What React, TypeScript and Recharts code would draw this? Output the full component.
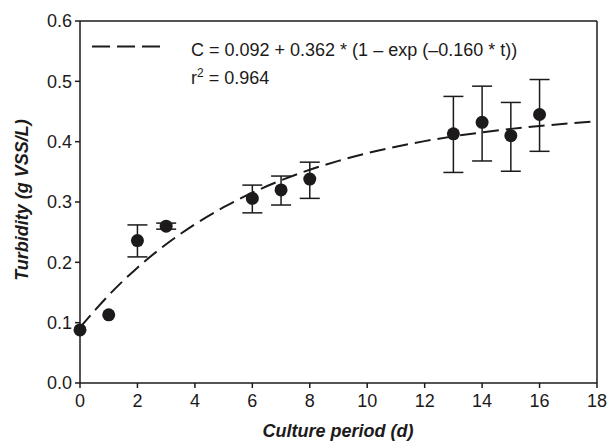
import React from "react";
import {
  ComposedChart,
  Line,
  Scatter,
  XAxis,
  YAxis,
  ErrorBar,
  ReferenceLine,
} from "recharts";

// Measured points (culture period in days, turbidity g VSS/L)
const days = [0, 1, 2, 3, 6, 7, 8, 13, 14, 15, 16];
const turbidity = [0.088, 0.113, 0.236, 0.26, 0.306, 0.32, 0.338, 0.413, 0.432, 0.41, 0.445];
const upperBound = [0.088, 0.113, 0.262, 0.265, 0.328, 0.343, 0.366, 0.475, 0.492, 0.465, 0.503];
const lowerBound = [0.088, 0.113, 0.209, 0.255, 0.282, 0.295, 0.306, 0.349, 0.368, 0.351, 0.384];

// Fitted curve sampled values
const fitDays = [0, 1, 2, 3, 4, 5, 6, 7, 8, 9, 10, 11, 12, 13, 14, 15, 16, 17, 18];
const fitValues = [
  0.092, 0.1455, 0.1912, 0.23, 0.2631, 0.2913, 0.3154, 0.3359, 0.3534, 0.3682,
  0.3809, 0.3917, 0.4009, 0.4088, 0.4154, 0.4212, 0.426, 0.4301, 0.4337,
];

const xTicks = [0, 2, 4, 6, 8, 10, 12, 14, 16, 18];
const yTicks = [0, 0.1, 0.2, 0.3, 0.4, 0.5, 0.6];

const equationText = "C = 0.092 + 0.362 * (1 \u2013 exp (\u20130.160 * t))";
const r2Value = "0.964";
const xTitle = "Culture period (d)";
const yTitle = "Turbidity (g VSS/L)";

const pointData = days.map((d, i) => ({
  x: d,
  y: turbidity[i],
  err:
    upperBound[i] === lowerBound[i]
      ? undefined
      : [turbidity[i] - lowerBound[i], upperBound[i] - turbidity[i]],
}));
const fitData = fitDays.map((d, i) => ({ x: d, y: fitValues[i] }));

const INK = "#1c1a1a";
const FONT = "'Liberation Sans', Arial, sans-serif";

const Dot = (props: any) => {
  const { cx, cy } = props;
  if (cx == null || cy == null) return null;
  return <circle cx={cx} cy={cy} r={6.5} fill={INK} />;
};

export default function App() {
  return (
    <div style={{ position: "absolute", left: 0, top: 0, width: 609, height: 441, background: "#fff" }}>
      <ComposedChart
        width={609}
        height={441}
        margin={{ top: 21, right: 12, bottom: 18, left: 0 }}
        style={{ overflow: "visible" }}
      >
        <XAxis
          dataKey="x"
          type="number"
          domain={[0, 18]}
          ticks={xTicks}
          tickSize={5}
          tickMargin={6}
          height={40}
          stroke={INK}
          strokeWidth={1.5}
          tick={{ fill: INK, fontSize: 18, fontFamily: FONT }}
        />
        <YAxis
          type="number"
          domain={[0, 0.6]}
          ticks={yTicks}
          width={80}
          tickSize={5}
          tickMargin={3}
          stroke={INK}
          strokeWidth={1.5}
          tickFormatter={(v: number) => v.toFixed(1)}
          tick={{ fill: INK, fontSize: 18, fontFamily: FONT }}
        />
        <ReferenceLine y={0.6} stroke={INK} strokeWidth={1.5} />
        <ReferenceLine x={18} stroke={INK} strokeWidth={1.5} />
        <Line
          data={fitData}
          dataKey="y"
          type="monotone"
          stroke={INK}
          strokeWidth={2}
          strokeDasharray="16 7"
          dot={false}
          activeDot={false}
          isAnimationActive={false}
        />
        <Scatter data={pointData} dataKey="y" shape={<Dot />} isAnimationActive={false}>
          <ErrorBar dataKey="err" direction="y" width={10} stroke={INK} strokeWidth={1.5} />
        </Scatter>
      </ComposedChart>
      <svg
        width={609}
        height={441}
        style={{ position: "absolute", left: 0, top: 0, pointerEvents: "none" }}
      >
        <line x1={92} y1={46.5} x2={164} y2={46.5} stroke={INK} strokeWidth={2} strokeDasharray="18 7" />
        <text x={191} y={56} fontSize={18} fontFamily={FONT} fill={INK}>
          {equationText}
        </text>
        <text x={191} y={83.5} fontSize={18} fontFamily={FONT} fill={INK}>
          r
          <tspan dy={-7} fontSize={12}>2</tspan>
          <tspan dy={7}>{" = " + r2Value}</tspan>
        </text>
        <text
          x={338}
          y={437}
          textAnchor="middle"
          fontSize={18}
          fontWeight="bold"
          fontStyle="italic"
          fontFamily={FONT}
          fill={INK}
        >
          {xTitle}
        </text>
        <text
          x={28}
          y={200}
          textAnchor="middle"
          transform="rotate(-90 28 200)"
          fontSize={18}
          fontWeight="bold"
          fontStyle="italic"
          fontFamily={FONT}
          fill={INK}
        >
          {yTitle}
        </text>
      </svg>
    </div>
  );
}
